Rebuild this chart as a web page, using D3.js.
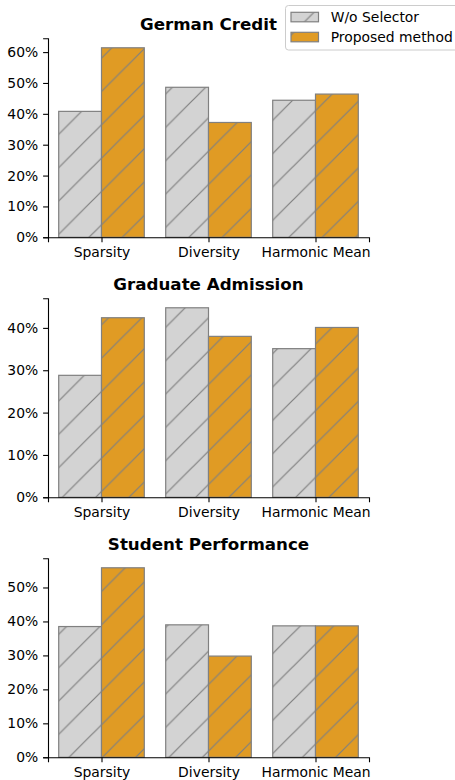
<!DOCTYPE html>
<html>
<head>
<meta charset="utf-8">
<script src="https://cdn.jsdelivr.net/npm/d3@7"></script>
<style>
body{margin:0;background:#fff}
svg{display:block;font-family:"DejaVu Sans",sans-serif}
</style>
</head>
<body>
<div class="chart"></div>
<script>
let categories=['Sparsity','Diversity','Harmonic Mean']
let datasets=['German Credit','Graduate Admission','Student Performance']
let seriesNames=['W/o Selector','Proposed method']
// values in %
let woSelector=[[40.8,48.6,44.4],[28.8,44.75,35.1],[38.5,39.0,38.7]]
let proposed=[[61.4,37.2,46.4],[42.4,38.0,40.1],[55.8,29.8,38.7]]
let yTicks=[[0,10,20,30,40,50,60],[0,10,20,30,40],[0,10,20,30,40,50]]

let w=455, h=780
let left=48, right=369
let panelTop=38.3, panelH=199, panelStep=260
let colors=['#d3d3d3','#e09b24']
let edge='#808080'
let hs=100/3

let svg=d3.select('.chart').append('svg').attr('width',w).attr('height',h)
let defs=svg.append('defs')
colors.forEach((c,k)=>{
    let p=defs.append('pattern').attr('id','hatch'+k).attr('patternUnits','userSpaceOnUse')
        .attr('x',26.3).attr('y',0).attr('width',hs).attr('height',hs)
    p.append('rect').attr('width',hs).attr('height',hs).attr('fill',c)
    p.append('path').attr('d',`M0,${hs}L${hs},0M${-hs/2},${hs/2}L${hs/2},${-hs/2}M${hs/2},${hs*1.5}L${hs*1.5},${hs/2}`)
        .attr('stroke',edge).attr('stroke-width',1.2)
})

let xScale=d3.scaleLinear().domain([-0.5,2.5]).range([left,right])

datasets.forEach((name,i)=>{
    let top=panelTop+i*panelStep, bottom=top+panelH
    let all=woSelector[i].concat(proposed[i])
    let yScale=d3.scaleLinear().domain([0,d3.max(all)*1.05]).range([bottom,top])
    let g=svg.append('g')
    let series=[woSelector[i],proposed[i]]
    series.forEach((vals,k)=>{
        g.selectAll('rect.s'+k).data(vals).enter().append('rect').attr('class','s'+k)
            .attr('x',(d,j)=>xScale(j-0.4+0.4*k))
            .attr('width',(d,j)=>xScale(j+0.4*k)-xScale(j-0.4+0.4*k))
            .attr('y',d=>yScale(d))
            .attr('height',d=>bottom-yScale(d))
            .attr('fill','url(#hatch'+k+')')
            .attr('stroke',edge).attr('stroke-width',1.2)
    })
    let xAxis=d3.axisBottom(xScale).tickValues([0,1,2]).tickFormat(j=>categories[j])
        .tickSizeOuter(0).tickSize(4.9).tickPadding(4.9)
    let yAxis=d3.axisLeft(yScale).tickValues(yTicks[i]).tickFormat(d=>d+'%')
        .tickSizeOuter(0).tickSize(4.9).tickPadding(4.9)
    svg.append('g').attr('transform','translate(0,'+bottom+')').call(xAxis)
        .call(a=>a.selectAll('text').attr('font-size',13.9).attr('font-family','DejaVu Sans').attr('fill','#000'))
        .call(a=>a.selectAll('line,path').attr('stroke-width',1.1))
    svg.append('g').attr('transform','translate('+left+',0)').call(yAxis)
        .call(a=>a.selectAll('text').attr('font-size',13.9).attr('font-family','DejaVu Sans').attr('fill','#000'))
        .call(a=>a.selectAll('line,path').attr('stroke-width',1.1))
    svg.append('text').text(name).attr('x',(left+right)/2).attr('y',top-8)
        .attr('text-anchor','middle').attr('font-weight','bold').attr('font-size',16.7)
})

// legend
let lg=svg.append('g')
lg.append('rect').attr('x',285.5).attr('y',5.5).attr('width',180).attr('height',44.5).attr('rx',3)
    .attr('fill','#fff').attr('fill-opacity',0.8).attr('stroke','#cccccc')
seriesNames.forEach((s,k)=>{
    lg.append('rect').attr('x',291).attr('y',12.3+20*k).attr('width',27.5).attr('height',9.5)
        .attr('fill','url(#hatch'+k+')').attr('stroke',edge).attr('stroke-width',1.2)
    lg.append('text').text(s).attr('x',330.7).attr('y',22+20*k).attr('font-size',13.9)
})
</script>
</body>
</html>
